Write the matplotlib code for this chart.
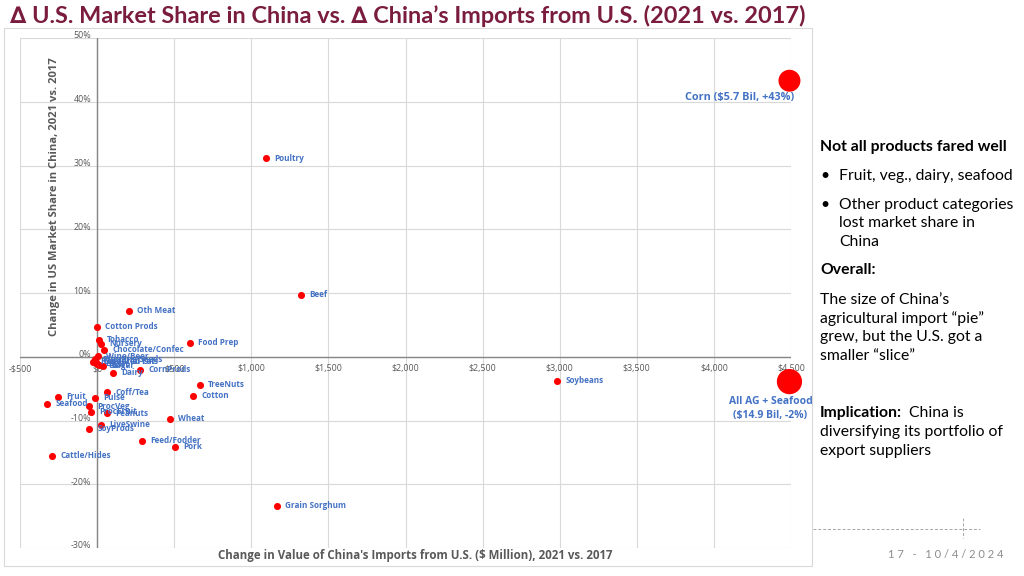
import matplotlib.pyplot as plt
from matplotlib.lines import Line2D
from matplotlib.patches import Rectangle

plt.rcParams['font.family'] = ['Lato', 'DejaVu Sans']

# products: change in china's imports from US ($ mil), change in US market share (%)
names = ['Poultry', 'Beef', 'Oth Meat', 'Cotton Prods', 'Food Prep', 'Tobacco', 'Nursery',
         'Chocolate/Confec', 'Wine/Beer', 'Planting Seeds', 'Rendered Fat', 'Essential Oils',
         'Eggs', 'Yeast', 'Sugar', 'Dairy', 'CornProds', 'TreeNuts', 'Cotton', 'Coff/Tea',
         'Pulse', 'Fruit', 'Seafood', 'ProcVeg', 'ProcFruit', 'Peanuts', 'Wheat', 'LiveSwine',
         'SoyProds', 'Feed/Fodder', 'Pork', 'Cattle/Hides', 'Grain Sorghum', 'Soybeans']
dx = [1097, 1324, 208, 0, 604, 13, 26,
      45, 5, -13, -26, -6,
      0, 13, 39, 104, 279, 668, 623, 65,
      -13, -253, -324, -52, -39, 65, 474, 26,
      -52, 292, 506, -292, 1168, 2985]
dy = [31.1, 9.7, 7.2, 4.7, 2.2, 2.7, 2.0,
      1.1, 0.1, -0.4, -0.8, -0.8,
      -1.1, -1.25, -1.4, -2.5, -2.0, -4.4, -6.1, -5.6,
      -6.4, -6.3, -7.4, -7.8, -8.6, -8.9, -9.7, -10.7,
      -11.3, -13.2, -14.1, -15.5, -23.4, -3.8]

big_names = ['Corn ($5.7 Bil, +43%)', 'All AG + Seafood\n($14.9 Bil, -2%)']
big_x = [4490, 4490]
big_y = [43.3, -3.9]
big_s = [250, 330]

xticks = [-500, 0, 500, 1000, 1500, 2000, 2500, 3000, 3500, 4000, 4500]
xtick_labels = ['-$500', '$0', '$500', '$1,000', '$1,500', '$2,000', '$2,500',
                '$3,000', '$3,500', '$4,000', '$4,500']
yticks = [-30, -20, -10, 0, 10, 20, 30, 40, 50]
ytick_labels = ['-30%', '-20%', '-10%', '0%', '10%', '20%', '30%', '40%', '50%']

blue = '#4472C4'
grey = '#595959'
lab_font = ['Open Sans', 'DejaVu Sans']

fig = plt.figure(figsize=(10.24, 5.76), dpi=100)
W, H = 1024, 576

# chart frame
fig.patches.append(Rectangle((4 / W, 1 - 566 / H), 808 / W, 538 / H, transform=fig.transFigure,
                             fill=False, edgecolor='#d9d9d9', linewidth=0.8))

ax = fig.add_axes([20 / W, 1 - 548 / H, 771 / W, 510 / H])
ax.set_xlim(-500, 4500)
ax.set_ylim(-30, 50)
for s in ax.spines.values():
    s.set_visible(False)
ax.set_xticks(xticks)
ax.set_yticks(yticks)
ax.tick_params(length=0, labelbottom=False, labelleft=False)
ax.grid(True, color='#d9d9d9', linewidth=0.8)
ax.set_axisbelow(True)
ax.axhline(0, color='#868686', linewidth=1.0, zorder=1)
ax.axvline(0, color='#868686', linewidth=1.0, zorder=1)

for v, t in zip(xticks, xtick_labels):
    ax.annotate(t, (v, 0), xytext=(0, -12), textcoords='offset pixels', ha='center',
                va='center', fontsize=6.4, color=grey, family=lab_font)
for v, t in zip(yticks, ytick_labels):
    ax.annotate(t, (0, v), xytext=(-6, 2), textcoords='offset pixels', ha='right',
                va='center', fontsize=6.4, color=grey, family=lab_font)

ax.scatter(dx, dy, s=26, color='#ff0000', zorder=3, linewidths=0)
for n, x, y in zip(names, dx, dy):
    ax.annotate(n, (x, y), xytext=(8, 0), textcoords='offset pixels', ha='left',
                va='center', fontsize=5.9, fontweight='bold', color=blue, zorder=4,
                family=lab_font)

ax.scatter(big_x, big_y, s=big_s, color='#ff0000', zorder=3, linewidths=0, clip_on=False)
ax.annotate(big_names[0], (big_x[0], big_y[0]), xytext=(5, -17), textcoords='offset pixels',
            ha='right', va='center', fontsize=7.8, fontweight='bold', color=blue,
            family=lab_font)
ax.annotate(big_names[1], (big_x[1], big_y[1]), xytext=(-19, -27), textcoords='offset pixels',
            ha='center', va='center', fontsize=7.5, fontweight='bold', color=blue,
            linespacing=1.3, family=lab_font)

fig.text(55 / W, 1 - 197 / H, 'Change in US Market Share in China, 2021 vs. 2017', rotation=90,
         ha='center', va='center', fontsize=8.1, fontweight='bold', color=grey, family=lab_font)
fig.text(415 / W, 1 - 556 / H, "Change in Value of China's Imports from U.S. ($ Million), 2021 vs. 2017",
         ha='center', va='center', fontsize=8.3, fontweight='bold', color=grey, family=lab_font)

fig.text(10 / W, 1 - 16 / H, '∆ U.S. Market Share in China vs. ∆ China’s Imports from U.S. (2021 vs. 2017)',
         ha='left', va='center', fontsize=16.9, fontweight='bold', color='#7a1c3e')

# right-hand notes
fs = 11.3
def line(y, s, x=820, bold=False):
    fig.text(x / W, 1 - y / H, s, ha='left', va='center', fontsize=fs,
             fontweight='bold' if bold else 'normal', color='black')

line(147, 'Not all products fared well', bold=True)
line(176, '•')
line(176, 'Fruit, veg., dairy, seafood', x=839)
line(205, '•')
line(205, 'Other product categories', x=839)
line(223, 'lost market share in', x=839)
line(242, 'China', x=839)
line(270, 'Overall:', bold=True)
line(300, 'The size of China’s')
line(319, 'agricultural import “pie”')
line(337, 'grew, but the U.S. got a')
line(356, 'smaller “slice”')
line(413, 'Implication:', bold=True)
line(413, 'China is', x=909)
line(432, 'diversifying its portfolio of')
line(451, 'export suppliers')

fig.lines.append(Line2D([813 / W, 980 / W], [1 - 529 / H, 1 - 529 / H], transform=fig.transFigure,
                        color='#a6a6a6', linewidth=0.7, linestyle=(0, (3, 2))))
fig.lines.append(Line2D([963 / W, 963 / W], [1 - 518 / H, 1 - 538 / H], transform=fig.transFigure,
                        color='#a6a6a6', linewidth=0.7, linestyle=(0, (3, 2))))
fig.text(888 / W, 1 - 555 / H, '1 7   -   1 0 / 4 / 2 0 2 4', ha='left', va='center',
         fontsize=8, color='#8c8c8c')

fig.savefig('out.png', dpi=100)
